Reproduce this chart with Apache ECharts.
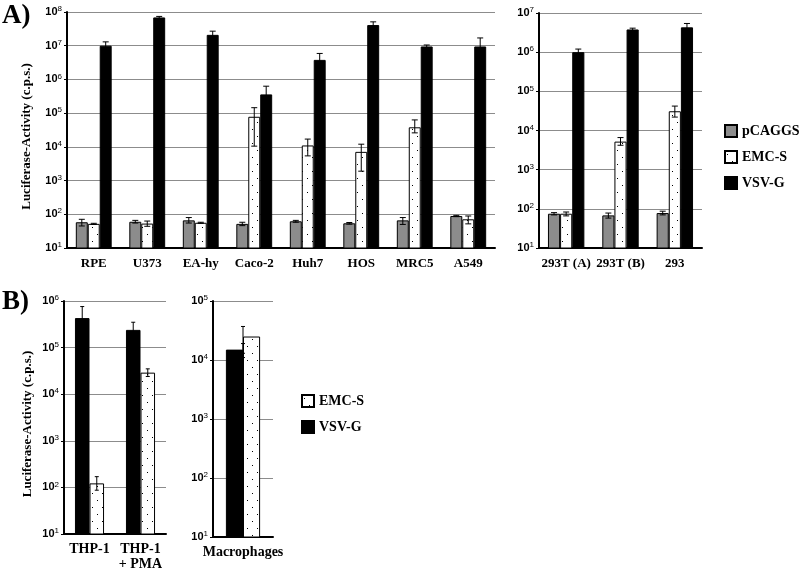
<!DOCTYPE html>
<html>
<head>
<meta charset="utf-8">
<script src="https://cdn.jsdelivr.net/npm/echarts@6/dist/echarts.min.js"></script>
<style>
  html, body { margin: 0; padding: 0; background: #fff; }
  #main { width: 800px; height: 572px; }
</style>
</head>
<body>
<div id="main"></div>
<script>
// panel A, left block
const catsA1 = ['RPE', 'U373', 'EA-hy', 'Caco-2', 'Huh7', 'HOS', 'MRC5', 'A549'];
const a1Pcaggs   = [58, 60, 66, 52, 62, 54, 66, 89];
const a1PcaggsLo = [45, 55, 55, 46, 58, 51, 50, 85];
const a1PcaggsHi = [71, 66, 80, 58, 66, 57, 80, 93];
const a1Emc   = [52, 53, 56, 78000, 11000, 7100, 38000, 71];
const a1EmcLo = [50, 44, 54, 10500, 5400, 1900, 26000, 52];
const a1EmcHi = [54, 63, 58, 145000, 17000, 12000, 63000, 89];
const a1Vsv   = [1.0e7, 6.9e7, 2.1e7, 3.6e5, 3.8e6, 4.1e7, 9.5e6, 9.5e6];
const a1VsvLo = [7.0e6, 6.4e7, 1.5e7, 9.0e4, 1.7e6, 3.1e7, 8.5e6, 2.0e6];
const a1VsvHi = [1.3e7, 7.4e7, 2.7e7, 6.3e5, 5.9e6, 5.1e7, 1.05e7, 1.7e7];

// panel A, right block
const catsA2 = ['293T (A)', '293T (B)', '293'];
const a2Pcaggs   = [75, 68, 78];
const a2PcaggsLo = [70, 58, 70];
const a2PcaggsHi = [80, 78, 87];
const a2Emc   = [75, 5200, 31000];
const a2EmcLo = [66, 4200, 22000];
const a2EmcHi = [83, 6600, 42000];
const a2Vsv   = [1.0e6, 3.8e6, 4.3e6];
const a2VsvLo = [8.0e5, 3.5e6, 3.2e6];
const a2VsvHi = [1.2e6, 4.1e6, 5.4e6];

// panel B
const catsB1 = ['THP-1', 'THP-1\n+ PMA'];
const b1Vsv   = [4.3e5, 2.4e5];
const b1VsvLo = [1.0e5, 1.3e5];
const b1VsvHi = [7.6e5, 3.5e5];
const b1Emc   = [122, 29000];
const b1EmcLo = [87, 24000];
const b1EmcHi = [170, 35000];

const catsB2 = ['Macrophages'];
const b2Vsv   = [15000];
const b2VsvLo = [11000];
const b2VsvHi = [19000];
const b2Emc   = [25000];
const b2EmcLo = [13000];
const b2EmcHi = [37000];

// dotted fill for EMC-S
const dots = document.createElement('canvas');
dots.width = 10; dots.height = 14;
const dctx = dots.getContext('2d');
dctx.fillStyle = '#fff';
dctx.fillRect(0, 0, 10, 14);
dctx.fillStyle = '#000';
dctx.fillRect(2, 3, 1, 1);
dctx.fillRect(7, 10, 1, 1);
const dotFill = { image: dots, repeat: 'repeat' };

const fills = { 'pCAGGS': '#8c8c8c', 'EMC-S': dotFill, 'VSV-G': '#000' };
const serif = 'Liberation Serif';
const GAP = 0.33;

function bars(name, idx, data, gap) {
  return {
    type: 'bar', name: name, xAxisIndex: idx, yAxisIndex: idx, data: data,
    barGap: '0%', barCategoryGap: (gap * 100) + '%',
    itemStyle: { color: fills[name], borderColor: '#000', borderWidth: 1 }
  };
}

function errors(idx, lo, hi, k, n, gap, cap) {
  return {
    type: 'custom', xAxisIndex: idx, yAxisIndex: idx, z: 10,
    data: lo.map((v, i) => [i, v, hi[i]]),
    renderItem: function (params, api) {
      const i = api.value(0);
      const top = api.coord([i, api.value(2)]);
      const bot = api.coord([i, api.value(1)]);
      const band = api.coord([1, api.value(2)])[0] - api.coord([0, api.value(2)])[0];
      const bw = Math.abs(band) * (1 - gap) / n;
      const x = top[0] + (k - (n - 1) / 2) * bw;
      const st = { stroke: '#000', lineWidth: 1 };
      return {
        type: 'group', children: [
          { type: 'line', shape: { x1: x, y1: top[1], x2: x, y2: bot[1] }, style: st },
          { type: 'line', shape: { x1: x - cap, y1: top[1], x2: x + cap, y2: top[1] }, style: st },
          { type: 'line', shape: { x1: x - cap, y1: bot[1], x2: x + cap, y2: bot[1] }, style: st }
        ]
      };
    }
  };
}

function xAxis(idx, cats, size) {
  return {
    type: 'category', gridIndex: idx, data: cats,
    axisLine: { lineStyle: { color: '#000', width: 2 } },
    axisTick: { length: 5, lineStyle: { color: '#000', width: 2 } },
    axisLabel: { interval: 0, margin: 8, color: '#000', fontFamily: serif, fontWeight: 'bold', fontSize: size, lineHeight: 15 }
  };
}

function yAxis(idx, max, name, gap) {
  return {
    type: 'log', logBase: 10, gridIndex: idx, min: 10, max: max, interval: 1,
    name: name, nameLocation: 'middle', nameRotate: 90, nameGap: gap,
    nameTextStyle: { fontFamily: serif, fontWeight: 'bold', fontSize: 13, color: '#000', padding: [0, 13, 0, 0] },
    axisLine: { show: true, lineStyle: { color: '#000', width: 2 } },
    axisTick: { show: true, length: 3, lineStyle: { color: '#000', width: 1 } },
    splitLine: { show: true, lineStyle: { color: '#8c8c8c', width: 1 } },
    axisLabel: {
      margin: 5,
      formatter: v => '{b|10}{s|' + Math.round(Math.log10(v)) + '}',
      rich: {
        b: { fontFamily: 'Liberation Sans', fontWeight: 'bold', fontSize: 11, color: '#000' },
        s: { fontFamily: 'Liberation Sans', fontSize: 8, color: '#000', padding: [0, 0, 6, 0] }
      }
    }
  };
}

const yName = 'Luciferase-Activity (c.p.s.)';
const legendText = { fontFamily: serif, fontWeight: 'bold', fontSize: 14, color: '#000' };

const chart = echarts.init(document.getElementById('main'));
chart.setOption({
  animation: false,
  backgroundColor: '#fff',
  grid: [
    { left: 67, top: 12, width: 428, height: 236 },
    { left: 539, top: 13, width: 163, height: 235 },
    { left: 64, top: 301, width: 102, height: 236 },
    { left: 213, top: 301, width: 60, height: 236 }
  ],
  xAxis: [xAxis(0, catsA1, 13), xAxis(1, catsA2, 13), xAxis(2, catsB1, 14), xAxis(3, catsB2, 14)],
  yAxis: [
    yAxis(0, 1e8, yName, 34),
    yAxis(1, 1e7, '', 0),
    yAxis(2, 1e6, yName, 30),
    yAxis(3, 1e5, '', 0)
  ],
  legend: [
    {
      orient: 'vertical', left: 724, top: 124, padding: 0, icon: 'rect',
      itemWidth: 12, itemHeight: 12, itemGap: 12,
      textStyle: legendText,
      data: ['pCAGGS', 'EMC-S', 'VSV-G']
    },
    {
      orient: 'vertical', left: 301, top: 394, padding: 0, icon: 'rect',
      itemWidth: 12, itemHeight: 12, itemGap: 12,
      textStyle: legendText,
      data: ['EMC-S', 'VSV-G']
    }
  ],
  graphic: [
    { type: 'text', left: 2, top: 3, style: { text: 'A)', font: 'bold 27px "Liberation Serif"', fill: '#000' } },
    { type: 'text', left: 2, top: 289, style: { text: 'B)', font: 'bold 27px "Liberation Serif"', fill: '#000' } }
  ],
  series: [
    bars('pCAGGS', 0, a1Pcaggs, GAP),
    bars('EMC-S', 0, a1Emc, GAP),
    bars('VSV-G', 0, a1Vsv, GAP),
    bars('pCAGGS', 1, a2Pcaggs, GAP),
    bars('EMC-S', 1, a2Emc, GAP),
    bars('VSV-G', 1, a2Vsv, GAP),
    bars('VSV-G', 2, b1Vsv, 0.43),
    bars('EMC-S', 2, b1Emc, 0.43),
    bars('VSV-G', 3, b2Vsv, 0.43),
    bars('EMC-S', 3, b2Emc, 0.43),
    errors(0, a1PcaggsLo, a1PcaggsHi, 0, 3, GAP, 3),
    errors(0, a1EmcLo, a1EmcHi, 1, 3, GAP, 3),
    errors(0, a1VsvLo, a1VsvHi, 2, 3, GAP, 3),
    errors(1, a2PcaggsLo, a2PcaggsHi, 0, 3, GAP, 3),
    errors(1, a2EmcLo, a2EmcHi, 1, 3, GAP, 3),
    errors(1, a2VsvLo, a2VsvHi, 2, 3, GAP, 3),
    errors(2, b1VsvLo, b1VsvHi, 0, 2, 0.43, 2),
    errors(2, b1EmcLo, b1EmcHi, 1, 2, 0.43, 2),
    errors(3, b2VsvLo, b2VsvHi, 0, 2, 0.43, 2),
    errors(3, b2EmcLo, b2EmcHi, 1, 2, 0.43, 2)
  ]
});
</script>
</body>
</html>
